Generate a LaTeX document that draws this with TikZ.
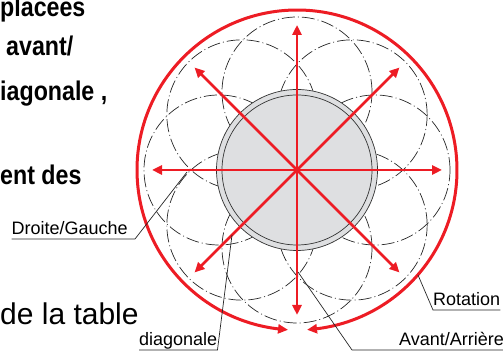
\documentclass[tikz,border=0pt]{standalone}
\usepackage{fontspec}
\setmainfont{Liberation Sans}
\newfontfamily\condfont{Liberation Sans}[FakeStretch=0.86]
\usepackage{tikz}
\usetikzlibrary{arrows.meta, bending, positioning}
\definecolor{tablered}{RGB}{237,28,36}
\definecolor{tablegrey}{RGB}{222,223,225}

\begin{document}
\begin{tikzpicture}[
    x=1pt, y=1pt,
    bigtext/.style={anchor=base west, inner sep=0pt, font=\condfont\fontsize{27}{31}\selectfont\bfseries},
    tag/.style={anchor=south west, inner xsep=0pt, inner ysep=0pt, text depth=4pt, font=\fontsize{18}{21}\selectfont},
    leader/.style={line width=0.7pt, black!85},
    petal/.style={line width=0.7pt, black!85, dash pattern=on 13pt off 3pt on 1pt off 3pt},
    move/.style={-{Triangle[length=10pt, width=9pt]}, line width=2.5pt, tablered},
    ring/.style={{Triangle[length=10pt, width=9pt, bend]}-{Triangle[length=10pt, width=9pt, bend]}, line width=3pt, tablered}
]
\useasboundingbox (0,0) rectangle (503,352);
\coordinate (c) at (297,182);

\begin{scope}[shift={(c)}]
\foreach \a in {0,45,...,315}
    \draw[petal] (\a:78) circle[radius=75];
\fill[tablegrey] (0,0) circle[radius=80.5];
\draw[line width=0.7pt, black!80] (0,0) circle[radius=80.5] (0,0) circle[radius=75];
\draw[ring] (-86.4:160) arc[start angle=-86.4, end angle=266.8, radius=160];
\foreach \a in {0,45,...,315}
    \draw[move] (0,0) -- (\a:145);
\end{scope}

\node[bigtext] (t1) at (0,335) {placees};
\node[bigtext] (t2) at (6,296) {avant/};
\node[bigtext] (t3) at (0,251) {iagonale ,};
\node[bigtext] (t4) at (0,167) {ent des};
\node[anchor=base west, inner sep=0pt, font=\fontsize{30}{34}\selectfont] (t5) at (0,27) {de la table};

\node[tag] (dg) at (11.5,113) {Droite/Gauche};
\node[tag] (di) at (139,2) {diagonale};
\node[tag] (aa) at (399,2) {Avant/Arrière};
\node[tag] (ro) at (433,42) {Rotation};

\coordinate (dg-k) at (135,113);
\coordinate (dg-pt) at (187,180);
\coordinate (di-pt) at (232,117);
\coordinate (aa-k) at (352,2);
\coordinate (aa-pt) at (298,80);
\coordinate (ro-pt) at (418,77);

\draw[leader] (dg.south west) -- (dg-k) -- (dg-pt);
\draw[leader] (di.south west) -- (di.south east) -- (di-pt);
\draw[leader] (aa.south east) -- (aa-k) -- (aa-pt);
\draw[leader] (ro.south east) -- (ro.south west) -- (ro-pt);
\end{tikzpicture}
\end{document}
